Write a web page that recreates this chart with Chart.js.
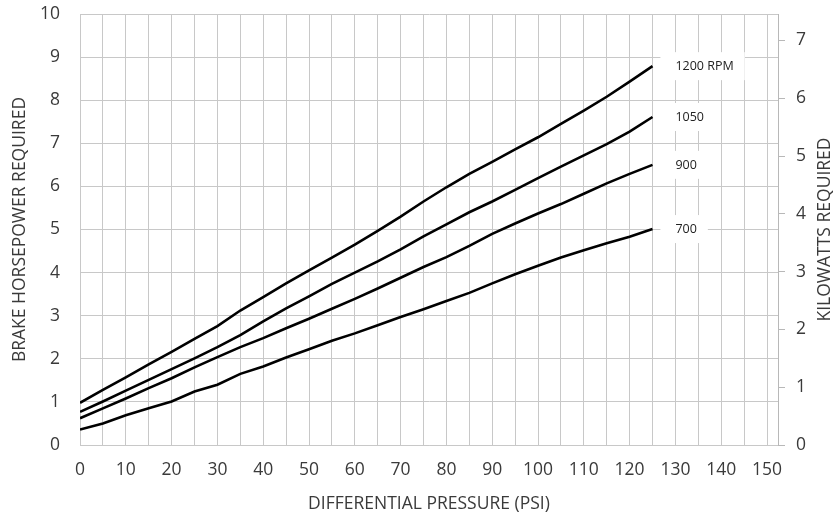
<!DOCTYPE html>
<html><head><meta charset="utf-8">
<script src="https://cdn.jsdelivr.net/npm/chart.js@4"></script>
<style>html,body{margin:0;padding:0;background:#fff;overflow:hidden;} #wrap{width:834px;height:517px;position:relative;}</style>
</head><body><div id="wrap"><canvas id="c"></canvas></div>
<script>
// Differential pressure (PSI) sample points
const pressure = [0,5,10,15,20,25,30,35,40,45,50,55,60,65,70,75,80,85,90,95,100,105,110,115,120,125];
// Brake horsepower required per pump speed
const hp1200 = [0.98,1.28,1.57,1.87,2.16,2.46,2.76,3.12,3.43,3.75,4.05,4.35,4.65,4.97,5.30,5.65,5.98,6.29,6.57,6.86,7.14,7.45,7.76,8.08,8.43,8.79];
const hp1050 = [0.77,1.01,1.26,1.51,1.76,2.01,2.27,2.55,2.87,3.17,3.45,3.74,4.00,4.26,4.54,4.84,5.12,5.40,5.65,5.92,6.19,6.46,6.72,6.98,7.27,7.61];
const hp900  = [0.62,0.85,1.08,1.32,1.55,1.80,2.04,2.27,2.48,2.71,2.93,3.16,3.39,3.63,3.88,4.13,4.36,4.62,4.90,5.14,5.37,5.59,5.83,6.07,6.29,6.50];
const hp700  = [0.36,0.50,0.69,0.85,1.01,1.24,1.40,1.65,1.82,2.03,2.22,2.42,2.59,2.78,2.97,3.15,3.34,3.53,3.75,3.96,4.16,4.35,4.52,4.68,4.83,5.01];
const seriesNames = ['1200 RPM','1050','900','700'];
// Tick values
const xTicks = [0,5,10,15,20,25,30,35,40,45,50,55,60,65,70,75,80,85,90,95,100,105,110,115,120,125,130,135,140,145,150];
const hpTicks = [0,1,2,3,4,5,6,7,8,9,10];
const kwTicks = [0,1,2,3,4,5,6,7];
const HP_TO_KW = 0.7457;
const labelAtPsi = 130;

const FONT = '"Open Sans", sans-serif';
const TXT = '#3a3a3a';
const GRID = '#c8c8c8';
Chart.defaults.font.family = FONT;

const series = [hp1200, hp1050, hp900, hp700];
const datasets = series.map((arr, i) => ({
  label: seriesNames[i],
  data: pressure.map((p, j) => ({x: p, y: arr[j]})),
  borderColor: '#000000',
  borderWidth: 2.6,
  pointRadius: 0,
  tension: 0,
  fill: false
}));

const endLabels = {
  id: 'endLabels',
  afterDatasetsDraw(chart) {
    const {ctx, scales: {x, y}} = chart;
    ctx.save();
    ctx.font = '12.5px ' + FONT;
    ctx.textBaseline = 'middle';
    ctx.textAlign = 'left';
    series.forEach((arr, i) => {
      const px = x.getPixelForValue(labelAtPsi);
      const py = y.getPixelForValue(arr[arr.length - 1]);
      const w = ctx.measureText(seriesNames[i]).width;
      ctx.fillStyle = '#ffffff';
      ctx.fillRect(px - 15, py - 14, w + 26, 28);
      ctx.fillStyle = '#222222';
      ctx.fillText(seriesNames[i], px, py + 0.5);
    });
    ctx.restore();
  }
};

const rightTitle = {
  id: 'rightTitle',
  afterDraw(chart) {
    const {ctx, chartArea} = chart;
    ctx.save();
    ctx.translate(825, (chartArea.top + chartArea.bottom) / 2);
    ctx.rotate(-Math.PI / 2);
    ctx.font = '17.5px ' + FONT;
    ctx.fillStyle = TXT;
    ctx.textAlign = 'center';
    ctx.textBaseline = 'middle';
    ctx.fillText('KILOWATTS REQUIRED', 0, 0);
    ctx.restore();
  }
};

const noPad = s => { s.paddingTop = 0; s.paddingBottom = 0; s.paddingLeft = 0; s.paddingRight = 0; };

new Chart(document.getElementById('c'), {
  type: 'line',
  data: {datasets},
  plugins: [endLabels, rightTitle],
  options: {
    responsive: true,
    maintainAspectRatio: false,
    animation: false,
    layout: {padding: {top: 14, left: 0, right: 0, bottom: 0}},
    plugins: {legend: {display: false}, tooltip: {enabled: false}},
    scales: {
      x: {
        type: 'linear', position: 'bottom', min: 0, max: 152.4,
        afterBuildTicks: s => { s.ticks = xTicks.map(v => ({value: v})); },
        afterFit: s => { s.height = 72; noPad(s); },
        ticks: {
          autoSkip: false, maxRotation: 0, color: TXT, padding: 15,
          font: {size: 17.5},
          callback: v => (v % 10 === 0 ? String(v) : '')
        },
        grid: {color: GRID, drawTicks: false, lineWidth: 1},
        border: {display: true, color: GRID},
        title: {display: true, text: 'DIFFERENTIAL PRESSURE (PSI)', color: TXT, font: {size: 17.5}, padding: {top: 0, bottom: 2}}
      },
      y: {
        type: 'linear', position: 'left', min: 0, max: 10,
        afterBuildTicks: s => { s.ticks = hpTicks.map(v => ({value: v})); },
        afterFit: s => { s.width = 80; noPad(s); },
        ticks: {color: TXT, padding: 20, font: {size: 17.5}},
        grid: {color: GRID, drawTicks: false, lineWidth: 1},
        border: {display: true, color: GRID},
        title: {display: true, text: 'BRAKE HORSEPOWER REQUIRED', color: TXT, font: {size: 17.5}, padding: {top: 9.5, bottom: 0}}
      },
      y2: {
        type: 'linear', position: 'right', min: 0, max: 10 * HP_TO_KW,
        afterBuildTicks: s => { s.ticks = kwTicks.map(v => ({value: v})); },
        afterFit: s => { s.width = 56; noPad(s); },
        ticks: {color: TXT, padding: 11, font: {size: 17.5}},
        grid: {drawOnChartArea: false, drawTicks: true, tickLength: 7, color: '#b8b8b8'},
        border: {display: true, color: '#b8b8b8'},
        title: {display: false}
      }
    }
  }
});
</script>
</body></html>
